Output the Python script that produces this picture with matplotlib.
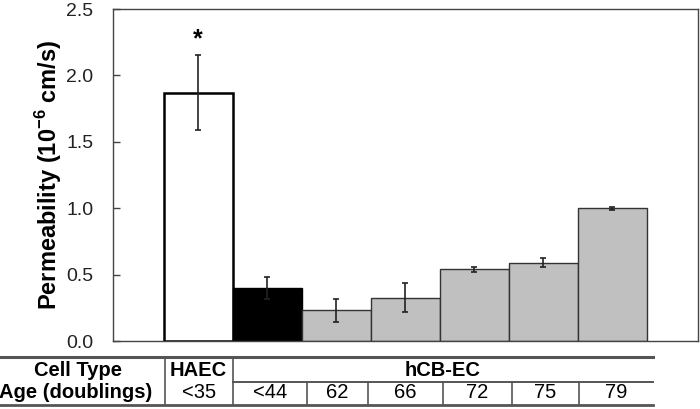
import numpy as np
import matplotlib
matplotlib.use("Agg")
import matplotlib.pyplot as plt

plt.rcParams['font.family'] = ['Liberation Sans', 'DejaVu Sans']
plt.rcParams['mathtext.fontset'] = 'custom'
plt.rcParams['mathtext.bf'] = 'Liberation Sans:bold'
plt.rcParams['mathtext.rm'] = 'Liberation Sans'

# data
groups = ['HAEC', '<44', '62', '66', '72', '75', '79']
perm = [1.87, 0.40, 0.23, 0.325, 0.54, 0.59, 1.0]
err = [0.28, 0.085, 0.085, 0.11, 0.02, 0.035, 0.01]
ages = ['<35', '<44', '62', '66', '72', '75', '79']
cell_types = ['HAEC', 'hCB-EC']

face = ['white', 'black', '#c0c0c0', '#c0c0c0', '#c0c0c0', '#c0c0c0', '#c0c0c0']
edge = ['black', 'black', '#333333', '#333333', '#333333', '#333333', '#333333']
lws = [1.8, 1.0, 1.0, 1.0, 1.0, 1.0, 1.0]

fig = plt.figure(figsize=(7, 4.09), dpi=100)
ax = fig.add_axes([113/700, 1-341/409, 585/700, 332/409])

x = np.arange(len(perm))
ax.bar(x, perm, width=1.0, color=face, edgecolor=edge, linewidth=lws, zorder=2)
ax.errorbar(x, perm, yerr=err, fmt='none', ecolor='#222222', elinewidth=1.2,
            capsize=2, capthick=1.2, zorder=3)
ax.text(x[0], perm[0] + err[0] + 0.03, '*', ha='center', va='bottom',
        fontsize=18, fontweight='bold')

ax.set_xlim(-1.232, 7.246)
ax.set_ylim(0, 2.5)
ax.set_yticks(np.arange(0, 2.51, 0.5))
ax.set_yticklabels([f'{v:.1f}' for v in np.arange(0, 2.51, 0.5)])
ax.set_xticks([])
ax.tick_params(axis='y', direction='in', length=5, width=1, color='#444444',
               labelsize=14, labelcolor='#222222', pad=14)
for s in ax.spines.values():
    s.set_color('#444444')
    s.set_linewidth(1.0)
ax.set_ylabel('Permeability (10$^{\\mathbf{-6}}$ cm/s)', fontsize=17,
              fontweight='bold')
ax.yaxis.set_label_coords(-0.084, 0.5)

# table under the chart (pixel coordinates)
tab = fig.add_axes([0, 0, 1, 1], zorder=-1)
tab.set_xlim(0, 700)
tab.set_ylim(409, 0)
tab.axis('off')
lc = '#555555'
tab.plot([0, 653], [357, 357], color=lc, lw=2.2)
tab.plot([233, 653], [381.5, 381.5], color=lc, lw=1.4)
tab.plot([0, 653], [405, 405], color=lc, lw=2.0)
for vx in [165, 233]:
    tab.plot([vx, vx], [357, 405], color=lc, lw=1.2)
bounds = [165, 233, 306.7, 368, 443, 511.7, 579, 653]
for vx in bounds[2:-1]:
    tab.plot([vx, vx], [381.5, 405], color=lc, lw=1.2)

fs = 14.5
tab.text(78, 370, 'Cell Type', ha='center', va='center', fontsize=fs, fontweight='bold')
tab.text(76, 393, 'Age (doublings)', ha='center', va='center', fontsize=fs, fontweight='bold')
tab.text(198, 370, cell_types[0], ha='center', va='center', fontsize=fs, fontweight='bold')
tab.text(443, 370, cell_types[1], ha='center', va='center', fontsize=fs, fontweight='bold')
for i, a in enumerate(ages):
    cx = (bounds[i] + bounds[i+1]) / 2
    tab.text(cx, 393, a, ha='center', va='center', fontsize=fs)

fig.savefig('out.png', dpi=100)
